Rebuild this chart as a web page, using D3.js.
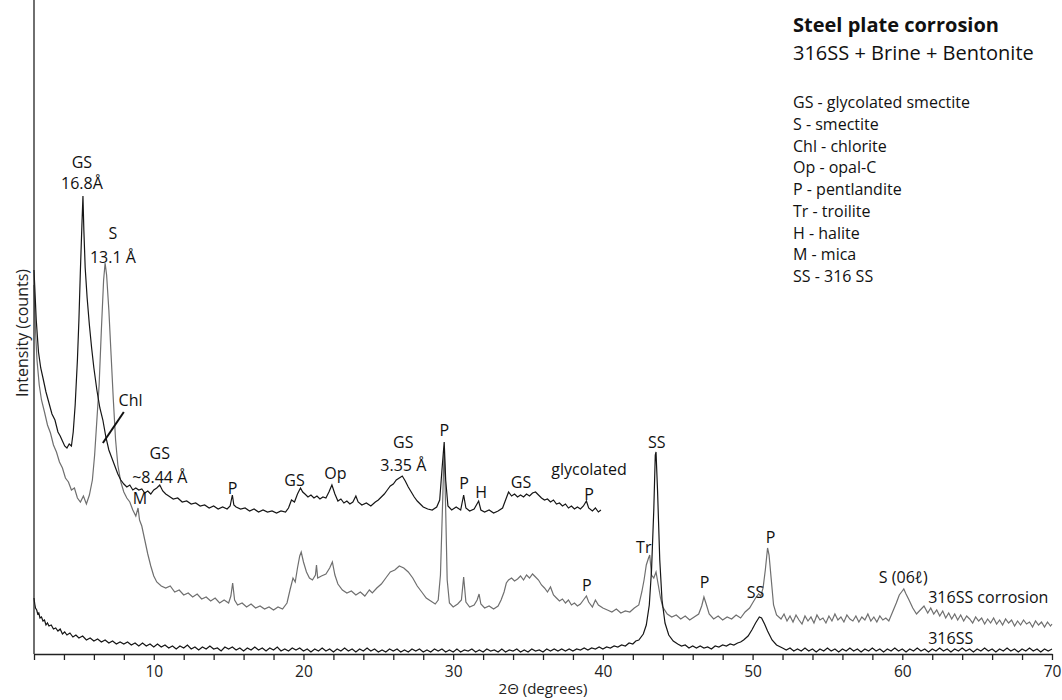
<!DOCTYPE html>
<meta charset="utf-8">
<title>Steel plate corrosion</title>
<body>
<script src="https://cdn.jsdelivr.net/npm/d3@7/dist/d3.min.js"></script>
<style>
html, body {
    margin: 0;
    background: #fff;
}
svg {
    display: block;
    font-family: "Open Sans", sans-serif;
}
</style>
<script>
// [2-theta (deg), intensity (arbitrary counts)]
var glycolated = [
  [2.00,384],[2.15,334],[2.30,302],[2.45,286],[2.60,276],[2.80,262],[3.00,251],[3.20,240],[3.40,234],[3.60,222],
  [3.75,218],[3.90,213],[4.05,208],[4.20,206],[4.35,210],[4.50,208],[4.62,222],[4.75,249],[4.90,294],[5.00,334],
  [5.10,384],[5.20,429],[5.27,458],[5.33,424],[5.42,386],[5.55,356],[5.70,329],[5.85,306],[6.00,286],[6.20,264],
  [6.40,246],[6.60,234],[6.80,217],[7.00,204],[7.20,196],[7.40,188],[7.60,180],[7.80,174],[8.00,170],[8.20,167],
  [8.40,169],[8.60,164],[8.80,166],[9.00,164],[9.20,165],[9.40,161],[9.60,163],[9.80,160],[10.0,164],[10.2,166],
  [10.4,169],[10.6,163],[10.8,160],[11.0,158],[11.3,155],[11.6,156],[11.9,152],[12.2,153],[12.5,150],[12.8,151],
  [13.1,148],[13.4,149],[13.7,146],[14.0,148],[14.3,145],[14.6,147],[14.9,145],[15.1,148],[15.25,159],[15.35,149],
  [15.5,147],[15.8,145],[16.1,146],[16.4,143],[16.7,145],[17.0,142],[17.3,144],[17.6,142],[17.9,143],[18.2,141],
  [18.5,143],[18.8,142],[19.0,146],[19.2,154],[19.4,152],[19.6,160],[19.8,166],[19.95,162],[20.1,160],[20.3,157],
  [20.5,159],[20.7,156],[20.9,158],[21.1,155],[21.3,157],[21.5,156],[21.7,162],[21.9,169],[22.1,160],[22.3,153],
  [22.5,155],[22.7,151],[22.9,153],[23.1,150],[23.3,152],[23.5,158],[23.65,152],[23.9,149],[24.2,151],[24.5,148],
  [24.8,152],[25.0,154],[25.2,157],[25.4,160],[25.6,164],[25.8,168],[26.0,170],[26.2,174],[26.4,176],[26.6,178],
  [26.8,173],[27.0,167],[27.2,162],[27.4,157],[27.6,153],[27.8,150],[28.0,147],[28.3,145],[28.6,144],[28.9,147],
  [29.1,154],[29.25,184],[29.4,212],[29.5,174],[29.65,148],[29.9,144],[30.2,147],[30.5,144],[30.7,159],[30.85,146],
  [31.1,143],[31.4,145],[31.7,153],[31.85,144],[32.1,142],[32.4,144],[32.7,141],[33.0,143],[33.3,146],[33.5,154],
  [33.7,162],[33.9,158],[34.1,160],[34.3,157],[34.5,159],[34.7,157],[34.9,160],[35.1,158],[35.3,161],[35.5,162],
  [35.7,159],[35.9,156],[36.1,154],[36.3,155],[36.5,152],[36.7,154],[36.9,150],[37.1,151],[37.3,148],[37.5,150],
  [37.7,146],[37.9,148],[38.1,145],[38.3,147],[38.5,145],[38.7,148],[38.9,153],[39.05,146],[39.3,143],[39.5,146],
  [39.7,142],[39.87,144]
];

var corrosion = [
  [2.00,369],[2.10,324],[2.20,294],[2.35,269],[2.50,254],[2.70,242],[2.90,229],[3.10,221],[3.30,209],[3.50,202],
  [3.70,192],[3.90,186],[4.10,176],[4.30,172],[4.50,164],[4.70,166],[4.90,156],[5.10,152],[5.30,158],[5.50,150],
  [5.70,159],[5.90,174],[6.05,199],[6.20,234],[6.35,269],[6.50,324],[6.65,374],[6.75,391],[6.85,379],[7.00,344],
  [7.15,299],[7.30,254],[7.45,214],[7.60,189],[7.80,172],[8.00,162],[8.20,156],[8.40,152],[8.60,144],[8.80,138],
  [8.95,146],[9.05,134],[9.20,128],[9.40,114],[9.60,100],[9.80,88],[10.0,78],[10.2,72],[10.5,68],[10.8,66],
  [11.1,68],[11.4,62],[11.7,64],[12.0,59],[12.3,61],[12.6,57],[12.9,60],[13.2,55],[13.5,57],[13.8,53],
  [14.1,56],[14.4,51],[14.7,54],[15.0,51],[15.15,58],[15.27,71],[15.4,54],[15.6,49],[15.9,51],[16.2,47],
  [16.5,50],[16.8,46],[17.1,48],[17.4,45],[17.7,47],[18.0,44],[18.3,47],[18.6,45],[18.9,51],[19.1,64],
  [19.3,76],[19.45,72],[19.6,86],[19.75,98],[19.85,102],[20.0,92],[20.2,82],[20.4,76],[20.6,74],[20.8,79],
  [20.87,89],[20.95,76],[21.2,78],[21.5,80],[21.75,86],[21.93,92],[22.1,79],[22.3,70],[22.6,64],[22.9,61],
  [23.2,63],[23.5,59],[23.8,62],[24.1,58],[24.4,64],[24.6,61],[24.9,66],[25.2,70],[25.5,76],[25.8,82],
  [26.1,84],[26.4,88],[26.7,86],[27.0,82],[27.3,76],[27.6,68],[27.9,62],[28.2,56],[28.5,53],[28.8,50],
  [29.0,54],[29.15,79],[29.3,154],[29.4,206],[29.5,144],[29.6,74],[29.75,51],[30.0,47],[30.3,50],[30.55,54],
  [30.7,77],[30.85,52],[31.1,47],[31.4,49],[31.6,54],[31.73,60],[31.85,50],[32.1,46],[32.4,48],[32.7,45],
  [33.0,48],[33.2,54],[33.4,62],[33.55,71],[33.7,74],[33.9,76],[34.1,73],[34.3,75],[34.5,78],[34.7,74],
  [34.9,79],[35.1,76],[35.3,80],[35.5,77],[35.7,74],[35.9,69],[36.1,66],[36.3,62],[36.5,67],[36.7,59],
  [36.9,56],[37.1,53],[37.3,55],[37.5,51],[37.7,54],[37.9,49],[38.1,51],[38.3,48],[38.5,50],[38.7,54],
  [38.9,58],[39.05,52],[39.3,47],[39.5,54],[39.7,49],[40.0,46],[40.3,44],[40.6,42],[40.9,45],[41.2,41],
  [41.5,43],[41.8,42],[42.1,46],[42.4,49],[42.6,62],[42.75,74],[42.9,89],[43.05,96],[43.13,99],[43.25,79],
  [43.4,76],[43.55,82],[43.7,69],[43.85,56],[44.0,47],[44.3,40],[44.6,37],[44.9,39],[45.2,35],[45.5,38],
  [45.8,34],[46.1,37],[46.4,40],[46.6,48],[46.75,57],[46.9,50],[47.1,40],[47.4,35],[47.7,38],[48.0,34],
  [48.3,37],[48.6,35],[48.9,39],[49.2,36],[49.5,42],[49.8,46],[50.0,51],[50.2,56],[50.4,60],[50.55,58],
  [50.7,66],[50.85,84],[51.0,106],[51.1,99],[51.25,74],[51.4,49],[51.6,39],[51.9,35],[52.1,40],[52.3,33],
  [52.5,38],[52.7,32],[52.9,39],[53.1,34],[53.3,30],[53.5,38],[53.7,33],[53.9,37],[54.1,31],[54.3,39],
  [54.5,34],[54.7,36],[54.9,31],[55.1,38],[55.3,33],[55.5,40],[55.7,34],[55.9,37],[56.1,32],[56.3,39],
  [56.5,35],[56.7,33],[56.9,38],[57.1,32],[57.3,37],[57.5,34],[57.7,40],[57.9,33],[58.1,37],[58.3,32],
  [58.5,38],[58.7,34],[58.9,36],[59.1,33],[59.35,42],[59.6,51],[59.8,59],[60.0,63],[60.1,65],[60.25,60],
  [60.45,54],[60.7,46],[60.95,40],[61.2,44],[61.45,48],[61.7,41],[61.9,46],[62.1,40],[62.3,44],[62.5,38],
  [62.7,43],[62.9,36],[63.1,41],[63.3,35],[63.5,40],[63.7,34],[63.9,39],[64.1,33],[64.3,38],[64.5,35],
  [64.7,31],[64.9,37],[65.1,33],[65.3,36],[65.5,30],[65.7,35],[65.9,31],[66.1,36],[66.3,30],[66.5,34],
  [66.7,29],[66.9,35],[67.1,31],[67.3,34],[67.5,28],[67.7,33],[67.9,29],[68.1,34],[68.3,30],[68.5,32],
  [68.7,27],[68.9,33],[69.1,29],[69.3,32],[69.5,27],[69.7,32],[69.9,28],[70.0,30]
];

var steel = [
  [2.00,56],[2.05,50],[2.10,46],[2.18,44],[2.25,40],[2.32,41],[2.40,36],[2.50,37],[2.60,33],[2.70,34],
  [2.80,29],[2.90,31],[3.00,28],[3.15,29],[3.30,25],[3.45,26],[3.60,23],[3.75,25],[3.90,20],[4.05,22],
  [4.20,19],[4.40,21],[4.60,17],[4.80,19],[5.00,16],[5.25,18],[5.50,14],[5.75,16],[6.00,13],[6.25,15],
  [6.50,12],[6.75,14],[7.00,11],[7.25,13],[7.50,10],[7.75,12],[8.00,10],[8.25,12],[8.50,9],[8.75,11],
  [9.00,8],[9.25,11],[9.50,8],[9.75,10],[10.0,7],[10.25,10],[10.5,7],[10.75,9],[11.0,6],[11.25,8],
  [11.5,5],[11.75,8],[12.0,6],[12.25,9],[12.5,5],[12.75,7],[13.0,4],[13.25,7],[13.5,5],[13.75,8],
  [14.0,5],[14.25,6],[14.5,3],[14.75,7],[15.0,5],[15.25,7],[15.5,4],[15.75,6],[16.0,3],[16.25,6],
  [16.5,4],[16.75,7],[17.0,4],[17.25,6],[17.5,3],[17.75,6],[18.0,4],[18.25,7],[18.5,3],[18.75,5],
  [19.0,3],[19.25,6],[19.5,4],[19.75,6],[20.0,3],[20.25,5],[20.5,2],[20.75,5],[21.0,3],[21.25,6],
  [21.5,3],[21.75,5],[22.0,2],[22.25,5],[22.5,3],[22.75,6],[23.0,3],[23.25,5],[23.5,2],[23.75,5],
  [24.0,3],[24.25,6],[24.5,3],[24.75,5],[25.0,2],[25.25,4],[25.5,2],[25.75,5],[26.0,3],[26.25,5],
  [26.5,2],[26.75,4],[27.0,2],[27.25,5],[27.5,3],[27.75,5],[28.0,2],[28.25,4],[28.5,2],[28.75,5],
  [29.0,3],[29.25,5],[29.5,2],[29.75,4],[30.0,2],[30.25,5],[30.5,2],[30.75,4],[31.0,3],[31.25,5],
  [31.5,2],[31.75,4],[32.0,2],[32.25,5],[32.5,3],[32.75,4],[33.0,2],[33.25,5],[33.5,2],[33.75,4],
  [34.0,3],[34.25,5],[34.5,2],[34.75,4],[35.0,2],[35.25,5],[35.5,3],[35.75,4],[36.0,2],[36.25,5],
  [36.5,3],[36.75,5],[37.0,3],[37.25,5],[37.5,3],[37.75,5],[38.0,3],[38.25,5],[38.5,4],[38.75,6],
  [39.0,4],[39.25,6],[39.5,5],[39.75,7],[40.0,5],[40.25,7],[40.5,6],[40.75,8],[41.0,7],[41.25,9],
  [41.5,8],[41.75,11],[42.0,10],[42.2,13],[42.4,14],[42.7,20],[42.9,29],[43.1,49],[43.25,84],[43.4,144],
  [43.5,199],[43.55,202],[43.65,164],[43.8,94],[43.95,54],[44.15,31],[44.4,19],[44.7,13],[45.0,10],[45.25,8],
  [45.5,9],[45.75,6],[46.0,8],[46.25,6],[46.5,8],[46.75,6],[47.0,7],[47.25,5],[47.5,8],[47.75,7],
  [48.0,9],[48.25,8],[48.5,10],[48.75,9],[49.0,11],[49.2,12],[49.4,14],[49.7,18],[49.95,24],[50.2,31],
  [50.45,37],[50.6,36],[50.8,30],[51.0,23],[51.3,14],[51.6,9],[52.0,6],[52.25,4],[52.5,6],[52.75,3],
  [53.0,5],[53.25,3],[53.5,6],[53.75,3],[54.0,5],[54.25,2],[54.5,5],[54.75,3],[55.0,6],[55.25,3],
  [55.5,5],[55.75,2],[56.0,5],[56.25,3],[56.5,6],[56.75,3],[57.0,5],[57.25,2],[57.5,5],[57.75,3],
  [58.0,6],[58.25,3],[58.5,5],[58.75,2],[59.0,5],[59.25,3],[59.5,6],[59.75,3],[60.0,5],[60.25,2],
  [60.5,5],[60.75,3],[61.0,6],[61.25,3],[61.5,5],[61.75,2],[62.0,5],[62.25,3],[62.5,6],[62.75,3],
  [63.0,5],[63.25,2],[63.5,5],[63.75,3],[64.0,6],[64.25,3],[64.5,5],[64.75,2],[65.0,5],[65.25,3],
  [65.5,6],[65.75,3],[66.0,5],[66.25,2],[66.5,5],[66.75,3],[67.0,6],[67.25,3],[67.5,5],[67.75,2],
  [68.0,5],[68.25,3],[68.5,6],[68.75,3],[69.0,5],[69.25,2],[69.5,5],[69.75,3],[70.0,5]
];

var xTickValues = [2,4,6,8,10,12,14,16,18,20,22,24,26,28,30,32,34,36,38,40,42,44,46,48,50,52,54,56,58,60,62,64,66,68,70];
var xTickLabels = [10,20,30,40,50,60,70];

var legendLines = [
  "GS - glycolated smectite", "S - smectite", "Chl - chlorite", "Op - opal-C", "P - pentlandite",
  "Tr - troilite", "H - halite", "M - mica", "SS - 316 SS"
];

// peak labels: text, 2-theta, intensity level of the label centre
var peakText  = ["GS","16.8\u00c5","S","13.1 \u00c5","Chl","GS","~8.44 \u00c5","P","M","GS","Op","GS","3.35 \u00c5","P","P","H","GS","glycolated","P","P","SS","Tr","P","SS","P","S (06\u2113)"];
var peakTheta = [5.2,5.2,7.27,7.27,8.45,10.4,10.4,15.27,9.07,19.4,22.13,26.67,26.67,29.4,30.73,31.87,34.53,39.07,39.07,38.93,43.6,42.73,46.8,50.2,51.2,60.07];
var peakLevel = [492,471,421,397,254,201,177,166,156,174,181,212,189,224,171,162,172,185,160,69,212,107,72,62,117,77];

var traceNames  = ["316SS corrosion", "316SS"];
var traceTheta  = [61.73, 61.73];
var traceLevel  = [57, 16];

var chlLeader = [[8.0, 242], [6.6, 211]];

var width = 1062,
    height = 700,
    margin = {top: 0, right: 10, bottom: 46, left: 34};

var x = d3.scaleLinear().domain([2, 70]).range([margin.left, 1052]);
var y = d3.scaleLinear().domain([0, 654]).range([height - margin.bottom, margin.top]);

var svg = d3.select("body").append("svg")
    .attr("width", width)
    .attr("height", height);

var line = d3.line()
    .x(function(d) { return x(d[0]); })
    .y(function(d) { return y(d[1]); });

svg.append("path")
    .datum(corrosion)
    .attr("fill", "none")
    .attr("stroke", "#6f6f6f")
    .attr("stroke-width", 1.2)
    .attr("d", line);

svg.append("path")
    .datum(steel)
    .attr("fill", "none")
    .attr("stroke", "#161616")
    .attr("stroke-width", 1.2)
    .attr("d", line);

svg.append("path")
    .datum(glycolated)
    .attr("fill", "none")
    .attr("stroke", "#161616")
    .attr("stroke-width", 1.2)
    .attr("d", line);

// axes
svg.append("g")
    .attr("transform", "translate(0," + y(0) + ")")
    .call(d3.axisBottom(x)
        .tickValues(xTickValues)
        .tickSize(6)
        .tickPadding(6)
        .tickSizeOuter(0)
        .tickFormat(function(d) { return xTickLabels.indexOf(d) >= 0 ? d : ""; }))
    .call(function(g) {
        g.selectAll("path, line").attr("stroke", "#222").attr("stroke-width", 1.3);
        g.selectAll("text").attr("font-size", 15.5).attr("font-family", "Open Sans").attr("fill", "#222");
    });

svg.append("line")
    .attr("x1", x(2)).attr("x2", x(2))
    .attr("y1", y(0)).attr("y2", y(654))
    .attr("stroke", "#222")
    .attr("stroke-width", 1.3);

svg.append("text")
    .attr("x", 543)
    .attr("y", 694)
    .attr("text-anchor", "middle")
    .attr("font-size", 15)
    .attr("fill", "#222")
    .text("2\u0398 (degrees)");

svg.append("text")
    .attr("transform", "translate(28,333) rotate(-90)")
    .attr("text-anchor", "middle")
    .attr("font-size", 16)
    .attr("fill", "#222")
    .text("Intensity (counts)");

// title and legend
svg.append("text")
    .attr("x", 793).attr("y", 32)
    .attr("font-size", 20).attr("font-weight", "bold").attr("fill", "#111")
    .text("Steel plate corrosion");

svg.append("text")
    .attr("x", 793).attr("y", 60)
    .attr("font-size", 20).attr("fill", "#111")
    .text("316SS + Brine + Bentonite");

svg.selectAll(".legend")
    .data(legendLines)
    .enter().append("text")
    .attr("class", "legend")
    .attr("x", 793)
    .attr("y", function(d, i) { return 108 + i * 21.75; })
    .attr("font-size", 16)
    .attr("fill", "#111")
    .text(function(d) { return d; });

// peak annotations
svg.selectAll(".peak")
    .data(peakText)
    .enter().append("text")
    .attr("class", "peak")
    .attr("x", function(d, i) { return x(peakTheta[i]); })
    .attr("y", function(d, i) { return y(peakLevel[i]); })
    .attr("dy", "0.35em")
    .attr("text-anchor", "middle")
    .attr("font-size", 16)
    .attr("fill", "#111")
    .text(function(d) { return d; });

svg.selectAll(".trace-name")
    .data(traceNames)
    .enter().append("text")
    .attr("class", "trace-name")
    .attr("x", function(d, i) { return x(traceTheta[i]); })
    .attr("y", function(d, i) { return y(traceLevel[i]); })
    .attr("dy", "0.35em")
    .attr("font-size", 16)
    .attr("fill", "#111")
    .text(function(d) { return d; });

svg.append("path")
    .datum(chlLeader)
    .attr("fill", "none")
    .attr("stroke", "#111")
    .attr("stroke-width", 2)
    .attr("d", line);
</script>
